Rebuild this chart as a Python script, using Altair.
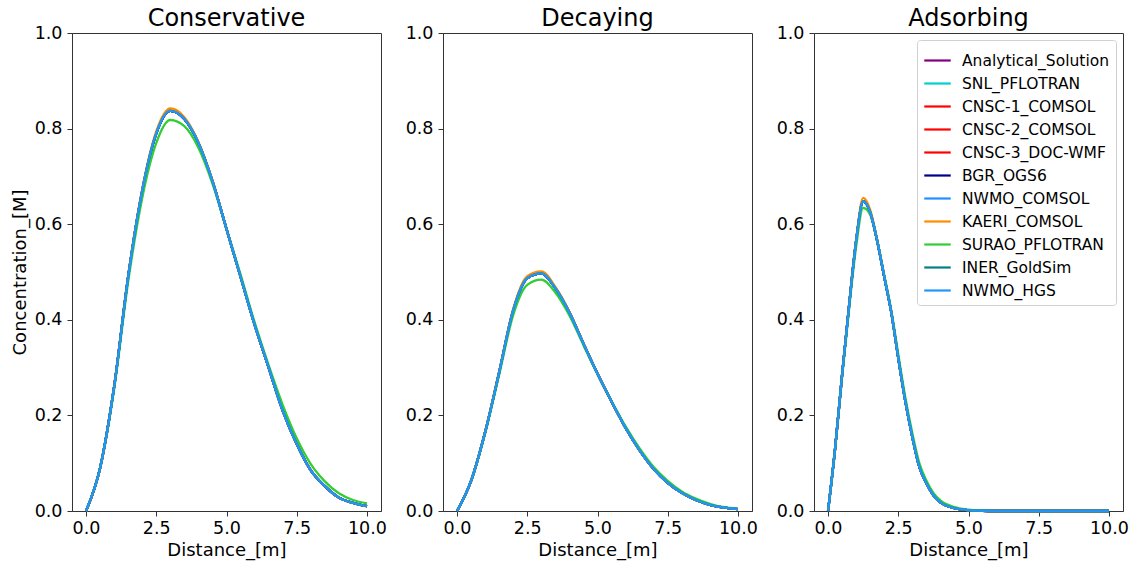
import altair as alt
import pandas as pd

series = ["Analytical_Solution", "SNL_PFLOTRAN", "CNSC-1_COMSOL", "CNSC-2_COMSOL",
          "CNSC-3_DOC-WMF", "BGR_OGS6", "NWMO_COMSOL", "KAERI_COMSOL",
          "SURAO_PFLOTRAN", "INER_GoldSim", "NWMO_HGS"]
colors = ["#800080", "#00CED1", "#FF0000", "#FF0000", "#FF0000", "#00008B",
          "#1E90FF", "#FF8C00", "#32CD32", "#008080", "#2196F8"]

panels = ["Conservative", "Decaying", "Adsorbing"]

# Conservative
x_cons = [0, 0.5, 1.0, 1.5, 2.0, 2.5, 3.0, 3.5, 4.0, 4.5, 5.0, 5.5, 6.0, 6.5,
          7.0, 7.5, 8.0, 8.5, 9.0, 9.5, 10.0]
cons_ref = [0.0, 0.09, 0.26, 0.49, 0.67, 0.79, 0.837, 0.82, 0.77, 0.69, 0.59,
            0.49, 0.39, 0.30, 0.21, 0.14, 0.085, 0.052, 0.028, 0.017, 0.010]
cons_kaeri = [0.0, 0.09, 0.261, 0.492, 0.673, 0.794, 0.842, 0.824, 0.772, 0.691,
              0.59, 0.49, 0.39, 0.30, 0.21, 0.14, 0.085, 0.052, 0.028, 0.017, 0.010]
cons_surao = [0.0, 0.09, 0.255, 0.48, 0.655, 0.77, 0.818, 0.805, 0.76, 0.685,
              0.59, 0.495, 0.395, 0.305, 0.222, 0.152, 0.098, 0.062, 0.037, 0.023, 0.016]

# Decaying
x_dec = x_cons
dec_ref = [0.0, 0.063, 0.165, 0.29, 0.42, 0.487, 0.497, 0.466, 0.415, 0.35, 0.287,
           0.229, 0.174, 0.127, 0.088, 0.059, 0.038, 0.023, 0.013, 0.007, 0.004]
dec_kaeri = [0.0, 0.063, 0.166, 0.292, 0.423, 0.491, 0.501, 0.469, 0.417, 0.351,
             0.287, 0.229, 0.174, 0.127, 0.088, 0.059, 0.038, 0.023, 0.013, 0.007, 0.004]
dec_surao = [0.0, 0.063, 0.163, 0.285, 0.41, 0.473, 0.484, 0.457, 0.409, 0.347,
             0.286, 0.23, 0.177, 0.131, 0.092, 0.063, 0.041, 0.026, 0.015, 0.008, 0.005]

# Adsorbing
x_ads = [0, 0.25, 0.5, 0.75, 1.0, 1.25, 1.5, 1.75, 2.0, 2.25, 2.5, 2.75, 3.0,
         3.25, 3.5, 3.75, 4.0, 4.5, 5.0, 5.5, 6.0, 7.0, 8.0, 9.0, 10.0]
ads_ref = [0.0, 0.13, 0.285, 0.43, 0.565, 0.648, 0.625, 0.565, 0.49, 0.416, 0.32,
           0.23, 0.155, 0.092, 0.058, 0.033, 0.018, 0.006, 0.002, 0.0005, 0.0,
           0.0, 0.0, 0.0, 0.0]
ads_kaeri = [0.0, 0.13, 0.286, 0.432, 0.568, 0.655, 0.63, 0.567, 0.491, 0.416, 0.32,
             0.23, 0.155, 0.092, 0.058, 0.033, 0.018, 0.006, 0.002, 0.0005, 0.0,
             0.0, 0.0, 0.0, 0.0]
ads_surao = [0.0, 0.128, 0.28, 0.423, 0.553, 0.634, 0.62, 0.565, 0.494, 0.42, 0.328,
             0.238, 0.163, 0.1, 0.064, 0.038, 0.022, 0.008, 0.003, 0.001, 0.0,
             0.0, 0.0, 0.0, 0.0]

panel_data = {
    "Conservative": (x_cons, cons_ref, cons_kaeri, cons_surao),
    "Decaying": (x_dec, dec_ref, dec_kaeri, dec_surao),
    "Adsorbing": (x_ads, ads_ref, ads_kaeri, ads_surao),
}

rows = []
for p in panels:
    xs, ref, kaeri, surao = panel_data[p]
    for s in series:
        vals = kaeri if s == "KAERI_COMSOL" else surao if s == "SURAO_PFLOTRAN" else ref
        for xv, yv in zip(xs, vals):
            rows.append({"panel": p, "series": s, "d": xv, "c": yv})
df = pd.DataFrame(rows)

FONT = "DejaVu Sans"
color_scale = alt.Scale(domain=series, range=colors)


def make_panel(p, show_ytitle, show_legend):
    layers = []
    for s in series:
        if show_legend:
            leg = alt.Legend(title=None, orient="top-right", offset=7,
                             symbolType="stroke", symbolSize=700, symbolStrokeWidth=2.2,
                             labelFontSize=15.5, labelFont=FONT, labelColor="black",
                             labelLimit=300, rowPadding=-4, padding=6,
                             fillColor="white", strokeColor="#d0d0d0", cornerRadius=3,
                             labelOffset=10)
        else:
            leg = None
        layer = alt.Chart(df[(df.panel == p) & (df.series == s)]).mark_line(
            strokeWidth=2.3, interpolate="monotone"
        ).encode(
            x=alt.X("d:Q", scale=alt.Scale(domain=[-0.5, 10.5], nice=False, zero=False),
                    axis=alt.Axis(values=[0, 2.5, 5, 7.5, 10], format=".1f",
                                  title="Distance_[m]", labelPadding=3.5)),
            y=alt.Y("c:Q", scale=alt.Scale(domain=[0, 1], nice=False),
                    axis=alt.Axis(values=[0, 0.2, 0.4, 0.6, 0.8, 1.0], format=".1f",
                                  labelPadding=5, titlePadding=5,
                                  title="Concentration_[M]" if show_ytitle else None)),
            color=alt.Color("series:N", scale=color_scale, legend=leg),
        )
        layers.append(layer)
    return alt.layer(*layers).properties(
        width=309, height=478,
        title=alt.TitleParams(p, fontSize=24, font=FONT, fontWeight="normal",
                              color="black", offset=-7),
    )


chart = alt.hconcat(
    make_panel("Conservative", True, False),
    make_panel("Decaying", False, False),
    make_panel("Adsorbing", False, True),
    spacing=62,
    bounds="flush",
).resolve_legend(color="independent").properties(
    padding={"left": 10, "top": 6, "right": 4, "bottom": 3},
    background="white",
).configure_view(
    stroke="#333333", strokeWidth=1
).configure_axis(
    grid=False, domainColor="#333333", tickColor="#333333", tickSize=5,
    labelFontSize=17.5, labelFont=FONT, labelColor="black",
    titleFontSize=18, titleFont=FONT, titleColor="black", titleFontWeight="normal",
    labelFlush=False, labelOverlap=False, titlePadding=4,
)

chart.save("out.html", embed_options={"renderer": "svg", "actions": False})
